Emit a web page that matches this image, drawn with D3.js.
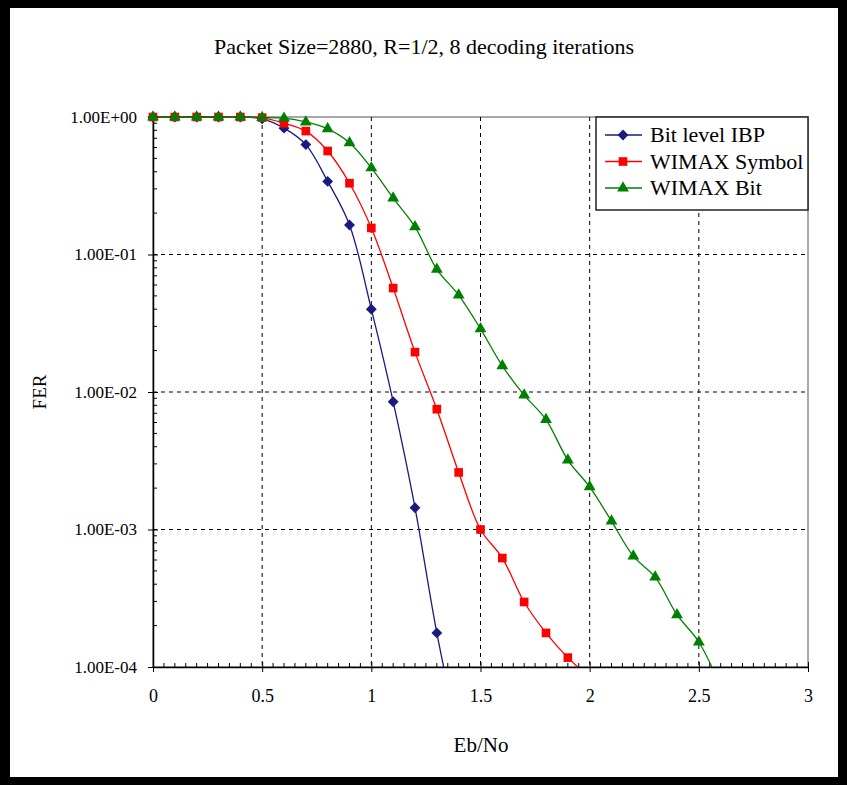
<!DOCTYPE html>
<html>
<head>
<meta charset="utf-8">
<script src="https://cdn.jsdelivr.net/npm/d3@7"></script>
<style>
  body { margin: 0; background: #000; }
  svg { display: block; }
  text { font-family: "Liberation Serif", "DejaVu Serif", serif; fill: #000; }
</style>
</head>
<body>
<div id="chart"></div>
<script>
// Data
const ebno = [0, 0.1, 0.2, 0.3, 0.4, 0.5, 0.6, 0.7, 0.8, 0.9, 1.0, 1.1, 1.2, 1.3, 1.4, 1.5, 1.6, 1.7, 1.8, 1.9, 2.0, 2.1, 2.2, 2.3, 2.4, 2.5, 2.6];

const ferBitIBP = [1, 1, 1, 1, 1, 0.97, 0.83, 0.63, 0.34, 0.164, 0.040, 0.0085, 0.00144, 0.000177, 0.000031];
const ferWimaxSymbol = [1, 1, 1, 1, 1, 0.99, 0.90, 0.79, 0.566, 0.33, 0.156, 0.057, 0.0195, 0.0075, 0.0026, 0.0010, 0.00062, 0.000297, 0.000177, 0.000117, 0.000084];
const ferWimaxBit = [1, 1, 1, 1, 1, 0.99, 0.98, 0.92, 0.82, 0.65, 0.426, 0.257, 0.159, 0.078, 0.0507, 0.0288, 0.0155, 0.0095, 0.0063, 0.0032, 0.00204, 0.00115, 0.00064, 0.00045, 0.00024, 0.000152, 0.000072];

const seriesNames = ["Bit level IBP", "WIMAX Symbol", "WIMAX Bit"];
const seriesColors = ["#1a1a80", "#ff0000", "#008000"];

const xTicks = [0, 0.5, 1, 1.5, 2, 2.5, 3];
const yTicks = [1, 0.1, 0.01, 0.001, 0.0001];
const yTickLabels = ["1.00E+00", "1.00E-01", "1.00E-02", "1.00E-03", "1.00E-04"];

const width = 847, height = 785;
const plot = { left: 153, right: 808, top: 117, bottom: 667 };

const svg = d3.select("#chart").append("svg")
  .attr("width", width)
  .attr("height", height);

// white page inside the black frame
svg.append("rect")
  .attr("x", 10).attr("y", 8)
  .attr("width", 828).attr("height", 769)
  .attr("fill", "#fff");

const x = d3.scaleLinear().domain([0, 3]).range([plot.left, plot.right]);
const y = d3.scaleLog().domain([0.0001, 1]).range([plot.bottom, plot.top]);

// plot area border (grey)
svg.append("rect")
  .attr("x", plot.left).attr("y", plot.top)
  .attr("width", plot.right - plot.left)
  .attr("height", plot.bottom - plot.top)
  .attr("fill", "none")
  .attr("stroke", "#8c8c8c")
  .attr("stroke-width", 1.5);

// dashed gridlines
svg.append("g")
  .selectAll("line")
  .data(xTicks.filter(d => d > 0 && d < 3))
  .enter().append("line")
  .attr("x1", d => x(d)).attr("x2", d => x(d))
  .attr("y1", plot.top).attr("y2", plot.bottom)
  .attr("stroke", "#000")
  .attr("stroke-dasharray", "4,4");

svg.append("g")
  .selectAll("line")
  .data(yTicks.filter(d => d < 1 && d > 0.0001))
  .enter().append("line")
  .attr("x1", plot.left).attr("x2", plot.right)
  .attr("y1", d => y(d)).attr("y2", d => y(d))
  .attr("stroke", "#000")
  .attr("stroke-dasharray", "4,4");

// minor ticks
const xMinor = d3.range(0, 61).map(i => i * 0.05).filter(d => xTicks.every(t => Math.abs(t - d) > 1e-6));
svg.append("g")
  .selectAll("line")
  .data(xMinor)
  .enter().append("line")
  .attr("x1", d => x(d)).attr("x2", d => x(d))
  .attr("y1", plot.bottom).attr("y2", plot.bottom - 4)
  .attr("stroke", "#000");

const yMinor = [];
for (let e = -4; e < 0; e++) {
  for (let m = 2; m <= 9; m++) yMinor.push(m * Math.pow(10, e));
}
svg.append("g")
  .selectAll("line")
  .data(yMinor)
  .enter().append("line")
  .attr("x1", plot.left).attr("x2", plot.left + 4)
  .attr("y1", d => y(d)).attr("y2", d => y(d))
  .attr("stroke", "#000");

// Axes
const xAxis = svg.append("g")
  .attr("transform", "translate(0," + plot.bottom + ")")
  .call(d3.axisBottom(x).tickValues(xTicks).tickSizeInner(0).tickSizeOuter(0).tickPadding(22)
    .tickFormat(d3.format("")));
xAxis.select(".domain").attr("stroke", "#000").attr("stroke-width", 1.5);
xAxis.selectAll("text").attr("font-size", 18).attr("font-family", "Liberation Serif");
xAxis.selectAll(".tick").append("line")
  .attr("y1", -5).attr("y2", 5).attr("stroke", "#000");

const yAxis = svg.append("g")
  .attr("transform", "translate(" + plot.left + ",0)")
  .call(d3.axisLeft(y).tickValues(yTicks).tickSizeInner(0).tickSizeOuter(0).tickPadding(16)
    .tickFormat((d, i) => yTickLabels[i]));
yAxis.select(".domain").attr("stroke", "#000").attr("stroke-width", 1.5);
yAxis.selectAll("text").attr("font-size", 17).attr("font-family", "Liberation Serif");
yAxis.selectAll(".tick").append("line")
  .attr("x1", -5).attr("x2", 5).attr("stroke", "#000");

// Series
svg.append("clipPath").attr("id", "clip")
  .append("rect")
  .attr("x", plot.left - 10).attr("y", plot.top - 10)
  .attr("width", plot.right - plot.left + 10)
  .attr("height", plot.bottom - plot.top + 10);

const allSeries = [ferBitIBP, ferWimaxSymbol, ferWimaxBit];
const symbols = [d3.symbolDiamond2, d3.symbolSquare2, d3.symbolTriangle2];
const symbolSizes = [75, 95, 100];

const line = d3.line()
  .x(d => x(d[0]))
  .y(d => y(d[1]))
  .curve(d3.curveCatmullRom.alpha(0.5));

const lineGroup = svg.append("g").attr("clip-path", "url(#clip)");
allSeries.forEach((vals, s) => {
  const pts = vals.map((v, i) => [ebno[i], v]);
  lineGroup.append("path")
    .datum(pts)
    .attr("d", line)
    .attr("fill", "none")
    .attr("stroke", seriesColors[s])
    .attr("stroke-width", 1.3);
});

svg.append("clipPath").attr("id", "clipm")
  .append("rect")
  .attr("x", 0).attr("y", 0)
  .attr("width", width).attr("height", plot.bottom);

allSeries.forEach((vals, s) => {
  const pts = vals.map((v, i) => [ebno[i], v]).filter(d => d[1] >= 0.0001);
  svg.append("g").attr("clip-path", "url(#clipm)")
    .selectAll("path")
    .data(pts)
    .enter().append("path")
    .attr("transform", d => "translate(" + x(d[0]) + "," + y(d[1]) + ")")
    .attr("d", d3.symbol().type(symbols[s]).size(symbolSizes[s]))
    .attr("fill", seriesColors[s]);
});

// Title and axis labels
svg.append("text")
  .attr("x", 424).attr("y", 54)
  .attr("text-anchor", "middle")
  .attr("font-size", 22)
  .text("Packet Size=2880, R=1/2, 8 decoding iterations");

svg.append("text")
  .attr("x", 481).attr("y", 752)
  .attr("text-anchor", "middle")
  .attr("font-size", 21)
  .text("Eb/No");

svg.append("text")
  .attr("transform", "translate(46,392) rotate(-90)")
  .attr("text-anchor", "middle")
  .attr("font-size", 19)
  .text("FER");

// Legend
const legend = svg.append("g");
legend.append("rect")
  .attr("x", 596).attr("y", 117)
  .attr("width", 212).attr("height", 93)
  .attr("fill", "#fff")
  .attr("stroke", "#222")
  .attr("stroke-width", 1.5);

seriesNames.forEach((name, s) => {
  const ly = 135 + s * 26.5;
  legend.append("line")
    .attr("x1", 605).attr("x2", 642)
    .attr("y1", ly).attr("y2", ly)
    .attr("stroke", seriesColors[s])
    .attr("stroke-width", 1.3);
  legend.append("path")
    .attr("transform", "translate(623," + ly + ")")
    .attr("d", d3.symbol().type(symbols[s]).size(symbolSizes[s]))
    .attr("fill", seriesColors[s]);
  legend.append("text")
    .attr("x", 650).attr("y", ly + 7)
    .attr("font-size", 22)
    .text(name);
});
</script>
</body>
</html>
